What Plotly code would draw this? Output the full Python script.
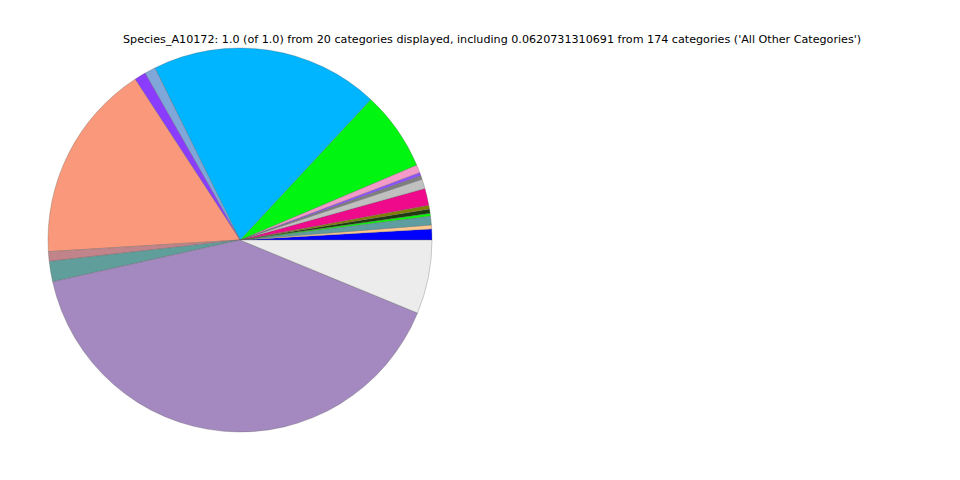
import plotly.graph_objects as go

title_text = ("Species_A10172: 1.0 (of 1.0) from 20 categories displayed, including "
              "0.0620731310691 from 174 categories ('All Other Categories')")

categories = [
    "Cat 1", "Cat 2", "Cat 3", "Cat 4", "Cat 5", "Cat 6", "Cat 7", "Cat 8",
    "Cat 9", "Cat 10", "Cat 11", "Cat 12", "Cat 13", "Cat 14", "Cat 15",
    "Cat 16", "Cat 17", "Cat 18", "Cat 19", "All Other Categories",
]
values = [
    0.0092, 0.0033, 0.0075, 0.0022, 0.0036, 0.0033, 0.0142, 0.0081,
    0.0031, 0.0028, 0.0067, 0.0669, 0.1925, 0.0092, 0.0097, 0.1678,
    0.0081, 0.0172, 0.4033, 0.0621,
]
colors = [
    "#0000ff", "#ffc990", "#5f9ea0", "#00ff00", "#1f3a10", "#808000",
    "#ee0a8a", "#c0c0c0", "#808080", "#8f52ff", "#f49ac8", "#00f510",
    "#00b5ff", "#7fa7d9", "#8b3dff", "#f9987a", "#c0848a", "#5f9e9a",
    "#a389bf", "#ececec",
]

# the page body adds an 8px offset; compensate in paper coordinates
OFF_X = 8 / 960
OFF_Y = 8 / 480

fig = go.Figure(go.Pie(
    labels=categories,
    values=values,
    marker=dict(colors=colors, line=dict(color="rgba(90,90,90,0.6)", width=0.5)),
    sort=False,
    direction="counterclockwise",
    rotation=86.7,
    textinfo="none",
    hoverinfo="label+value",
    showlegend=False,
    domain=dict(x=[0.05 - OFF_X, 0.45 - OFF_X], y=[0.1 + OFF_Y, 0.9 + OFF_Y]),
))

fig.update_layout(
    width=960, height=480,
    margin=dict(l=0, r=0, t=0, b=0),
    paper_bgcolor="white",
    plot_bgcolor="white",
    font=dict(family="DejaVu Sans", color="black"),
    annotations=[dict(
        text=title_text, x=484/960, y=1 - 32/480, xref="paper", yref="paper",
        xanchor="center", yanchor="middle", showarrow=False,
        font=dict(size=11.15, family="DejaVu Sans", color="black"),
    )],
)

fig.write_html("out.html")
